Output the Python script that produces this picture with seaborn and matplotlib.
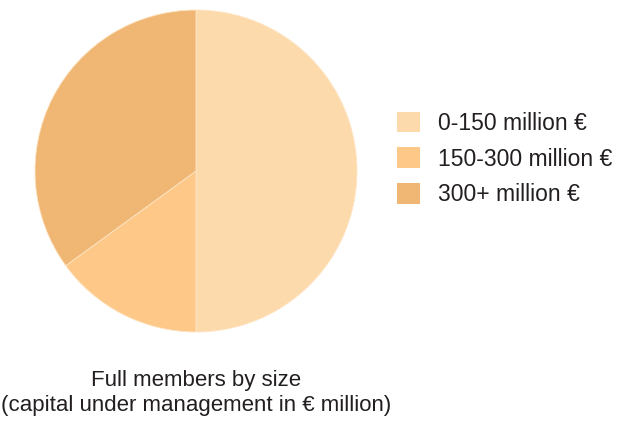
import matplotlib
matplotlib.use("Agg")
import matplotlib.pyplot as plt
import seaborn as sns
from matplotlib.patches import Patch

# Share of full members by size of capital under management
categories = ["0-150 million €", "150-300 million €", "300+ million €"]
shares = [50, 15, 35]
colors = ["#FDDAAB", "#FDC888", "#F0B673"]

sns.set_theme(style="white")
plt.rcParams["font.family"] = ["Liberation Sans", "DejaVu Sans"]

fig = plt.figure(figsize=(6.27, 4.25), dpi=100)
ax = fig.add_axes([35 / 627, 1 - 332 / 425, 322 / 627, 322 / 425])

ax.pie(
    shares,
    colors=colors,
    startangle=90,
    counterclock=False,
    radius=1.0,
    wedgeprops=dict(edgecolor="#FDE6C6", linewidth=0.6),
)
ax.set_xlim(-1, 1)
ax.set_ylim(-1, 1)
ax.set_aspect("equal")
ax.axis("off")

handles = [Patch(facecolor=c, edgecolor="none") for c in colors]
fig.legend(
    handles,
    categories,
    loc="center left",
    bbox_to_anchor=(386 / 627, 1 - 159 / 425),
    frameon=False,
    fontsize=16.5,
    handlelength=1.0,
    handleheight=1.0,
    handletextpad=0.75,
    labelspacing=0.55,
    borderpad=0,
    labelcolor="#231F20",
)

fig.text(
    196 / 627,
    1 - 393 / 425,
    "Full members by size\n(capital under management in € million)",
    ha="center",
    va="center",
    fontsize=16,
    color="#231F20",
    linespacing=1.3,
)

fig.savefig("out.png", dpi=100)
